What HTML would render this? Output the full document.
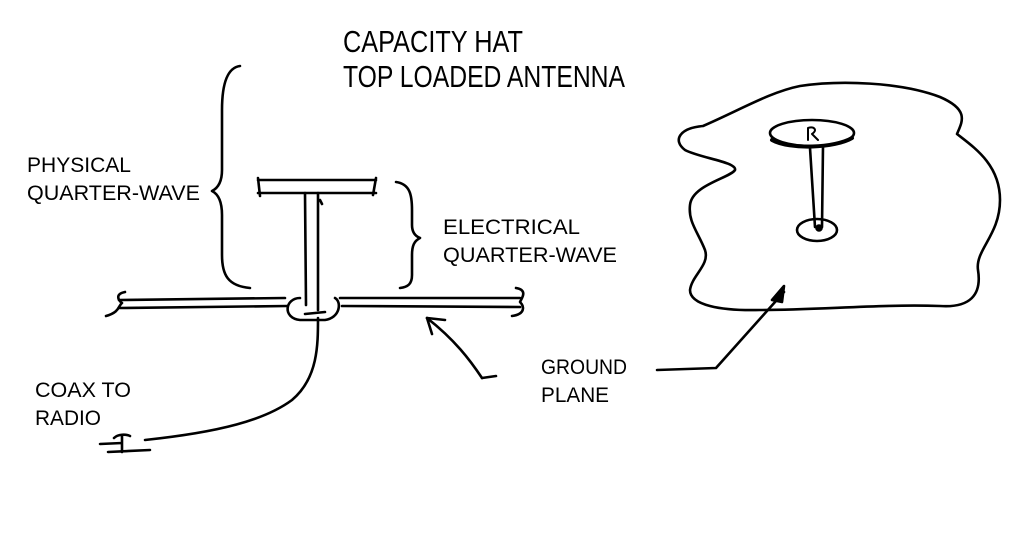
<!DOCTYPE html>
<html><head><meta charset="utf-8"><style>
html,body{margin:0;padding:0;background:#fff;width:1024px;height:543px;overflow:hidden}
svg{display:block}
text{font-family:"Liberation Sans",sans-serif;fill:#000}
</style></head><body>
<svg width="1024" height="543" viewBox="0 0 1024 543" xmlns="http://www.w3.org/2000/svg">
<text x="343" y="52" font-size="31" textLength="180" lengthAdjust="spacingAndGlyphs">CAPACITY HAT</text>
<text x="343" y="87" font-size="31" textLength="282" lengthAdjust="spacingAndGlyphs">TOP LOADED ANTENNA</text>
<text x="27" y="172" font-size="21" textLength="104" lengthAdjust="spacingAndGlyphs">PHYSICAL</text>
<text x="27" y="200" font-size="21" textLength="173" lengthAdjust="spacingAndGlyphs">QUARTER-WAVE</text>
<text x="443" y="234" font-size="21" textLength="137" lengthAdjust="spacingAndGlyphs">ELECTRICAL</text>
<text x="443" y="262" font-size="21" textLength="174" lengthAdjust="spacingAndGlyphs">QUARTER-WAVE</text>
<text x="35" y="397" font-size="21" textLength="96" lengthAdjust="spacingAndGlyphs">COAX TO</text>
<text x="35" y="425" font-size="21" textLength="66" lengthAdjust="spacingAndGlyphs">RADIO</text>
<text x="541" y="374" font-size="21" textLength="86" lengthAdjust="spacingAndGlyphs">GROUND</text>
<text x="541" y="402" font-size="21" textLength="68" lengthAdjust="spacingAndGlyphs">PLANE</text>
<g fill="none" stroke="#000" stroke-width="2.6" stroke-linecap="round" stroke-linejoin="round">
<path d="M240 66 C225 68 222 90 222 110 L222 170 C222 182 218 188 212 191 C220 195 222 205 222 215 L222 255 C222 275 228 286 250 288"/>
<path d="M396 182 C410 184 412 195 412 210 L412 225 C412 232 415 236 420 238 C414 241 412 246 412 255 L412 275 C412 284 408 287 400 288"/>
<path d="M258 180 L376 180 M258 193 L376 193 M258 178 L260 196 M376 178 L373 195"/>
<path d="M305 193 L306 305 M318 193 L318 310 M320 200 L322 204"/>
<path d="M119 300 L285 298 M119 308 L287 306"/>
<path d="M340 298 L520 298 M342 306 L520 307"/>
<path d="M125 292 C115 294 118 300 122 303 C118 306 120 312 106 316"/>
<path d="M516 288 C528 290 522 298 520 302 C524 306 526 314 512 316"/>
<path d="M300 298 C285 298 282 318 300 320 L325 320 C340 318 342 302 335 298"/>
<path d="M305 314 L325 312"/>
<path d="M318 318 C318 345 318 378 292 400 C265 420 220 432 145 440"/>
<path d="M114 438 C118 434 126 434 130 436 M122 436 L122 452 M108 452 L150 450 M100 444 L122 443"/>
<path d="M482 378 C470 360 455 340 427 318"/>
<path d="M427 318 L432 334 M427 318 L445 320"/>
<path d="M482 378 L496 376"/>
<path d="M703 126 C740 110 770 92 800 86 C840 80 900 82 940 97 C970 110 962 122 957 134 C975 148 1000 165 1000 200 C1000 235 975 250 978 270 C982 295 970 308 940 306 C880 304 820 310 760 310 C720 311 690 305 690 290 C692 275 710 265 705 250 C698 232 688 222 690 205 C692 185 730 178 735 170 C737 162 700 158 685 150 C672 140 680 128 703 126 Z"/>
<ellipse cx="812" cy="133" rx="42" ry="13"/>
<path d="M772 140 C790 150 835 148 852 138" stroke-width="4"/>
<path d="M808 140 L808 128 C814 126 818 130 812 134 L818 140" stroke-width="2"/>
<path d="M810 148 L815 227 M823 146 L822 227"/>
<ellipse cx="817" cy="230" rx="20" ry="11"/>
<circle cx="819" cy="228" r="2.5" fill="#000"/>
<path d="M657 370 L716 368 L784 292"/>
<path d="M784 286 L772 300 L782 302 Z" fill="#000"/>
</g>
</svg>
</body></html>
